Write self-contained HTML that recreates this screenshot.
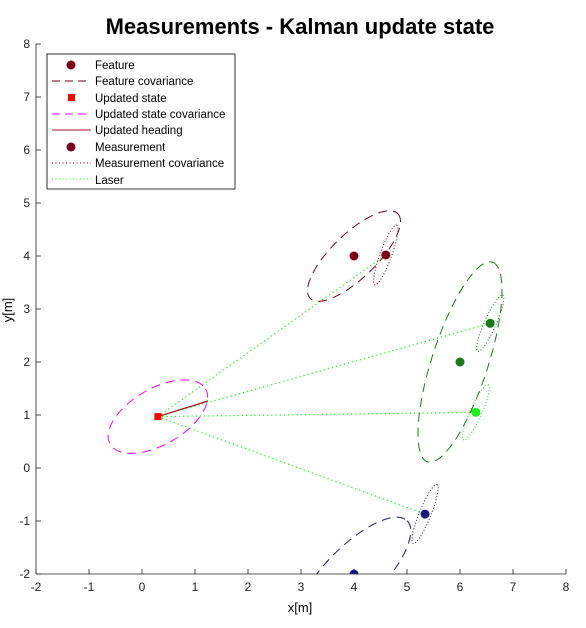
<!DOCTYPE html>
<html><head><meta charset="utf-8"><style>
body{margin:0;background:#fff;}
svg{display:block;font-family:"Liberation Sans",Arial,sans-serif;}
</style></head><body>
<svg width="586" height="628" viewBox="0 0 586 628">
<defs><clipPath id="plot"><rect x="36" y="44" width="530" height="530"/></clipPath></defs>
<text x="300" y="34" text-anchor="middle" font-size="22" font-weight="bold">Measurements - Kalman update state</text>
<g id="axes"></g>
<g id="marks" clip-path="url(#plot)"></g>
<text x="300" y="612" text-anchor="middle" font-size="13">x[m]</text>
<text x="12" y="310" text-anchor="middle" font-size="13" transform="rotate(-90 12 310)">y[m]</text>
<g>
<rect x="47" y="54" width="188" height="135" fill="#fff" stroke="#000" stroke-width="0.8"/>
<g font-size="11.5">
<circle cx="71" cy="65" r="4.5" fill="#7a0019"/>
<text x="95" y="69">Feature</text>
<line x1="52" y1="81" x2="91" y2="81" stroke="#7a0019" stroke-dasharray="8,5"/>
<text x="95" y="85">Feature covariance</text>
<rect x="68" y="94" width="7" height="7" fill="#f00"/>
<text x="95" y="102">Updated state</text>
<line x1="52" y1="114" x2="91" y2="114" stroke="#f0f" stroke-dasharray="8,5"/>
<text x="95" y="118">Updated state covariance</text>
<line x1="52" y1="130" x2="91" y2="130" stroke="#a0102a"/>
<text x="95" y="134">Updated heading</text>
<circle cx="71" cy="147" r="4.5" fill="#7a0019"/>
<text x="95" y="151">Measurement</text>
<line x1="52" y1="163" x2="91" y2="163" stroke="#7a0019" stroke-dasharray="1,2.5"/>
<text x="95" y="167">Measurement covariance</text>
<line x1="52" y1="179" x2="91" y2="179" stroke="#0f0" stroke-dasharray="1,2.5"/>
<text x="95" y="184">Laser</text>
</g></g>
</svg>
<script>
const xTicks=[-2,-1,0,1,2,3,4,5,6,7,8];
const yTicks=[-2,-1,0,1,2,3,4,5,6,7,8];
const robot=[0.3,0.97];
const headingEnd=[1.245,1.264];
const featX=[4,6,4];
const featY=[4,2,-2];
const featColors=['#7a0019','#1a7a1a','#1a1a7a'];
const measX=[4.6,6.57,6.3,5.34];
const measY=[4.02,2.73,1.05,-0.87];
const measColors=['#7a0019','#1a7a1a','#1aee1a','#1a1a7a'];
// ellipse params in data units: semi-major, semi-minor, angle(deg)
const featA=[1.15,1.98,1.42];
const featB=[0.42,0.53,0.53];
const featAng=[44,72,45];
const stateA=1.04, stateB=0.53, stateAng=30;
const measA=[0.6,0.58,0.57,0.6];
const measB=[0.11,0.11,0.11,0.11];
const measAng=[70,66,66,68];

const NS='http://www.w3.org/2000/svg';
const X=v=>36+(v+2)*53, Y=v=>574-(v+2)*53, S=d=>d*53;
function mk(tag,attrs,parent){const e=document.createElementNS(NS,tag);for(const k in attrs)e.setAttribute(k,attrs[k]);parent.appendChild(e);return e;}
const axes=document.getElementById('axes'), marks=document.getElementById('marks');
let e=mk('line',{x1:36,y1:574,x2:566,y2:574,stroke:'#222','stroke-width':0.8},axes);


e=mk('line',{x1:36,y1:44,x2:36,y2:574,stroke:'#222','stroke-width':0.8},axes);


xTicks.forEach(t=>{mk('line',{x1:X(t),y1:574,x2:X(t),y2:569,stroke:'#222','stroke-width':0.8},axes);
 const tx=mk('text',{x:X(t),y:591,'text-anchor':'middle','font-size':12,fill:'#222'},axes);tx.textContent=t;
 
 });
yTicks.forEach(t=>{mk('line',{x1:36,y1:Y(t),x2:41,y2:Y(t),stroke:'#222','stroke-width':0.8},axes);
 const tx=mk('text',{x:30,y:Y(t)+4,'text-anchor':'end','font-size':12,fill:'#222'},axes);tx.textContent=t;
 
 });
function ell(cx,cy,a,b,ang,col,dash,name){
 const el=mk('ellipse',{cx:X(cx),cy:Y(cy),rx:S(a),ry:S(b),fill:'none',stroke:col,'stroke-width':1,'stroke-dasharray':dash,transform:`rotate(${-ang} ${X(cx)} ${Y(cy)})`},marks);
 
 }
// laser lines
measX.forEach((m,i)=>{const l=mk('line',{x1:X(robot[0]),y1:Y(robot[1]),x2:X(m),y2:Y(measY[i]),stroke:'#0f0','stroke-width':1.2,'stroke-dasharray':'1.2,3'},marks);
 
 });
featX.forEach((f,i)=>ell(f,featY[i],featA[i],featB[i],featAng[i],featColors[i],'9,6','feature-covariance'));
ell(robot[0],robot[1],stateA,stateB,stateAng,'#f0f','9,6','state-covariance');
measX.forEach((m,i)=>ell(m,measY[i],measA[i],measB[i],measAng[i],measColors[i],'1,2','measurement-covariance'));
featX.forEach((f,i)=>{const c=mk('circle',{cx:X(f),cy:Y(featY[i]),r:4.5,fill:featColors[i]},marks);
 
 });
measX.forEach((m,i)=>{const c=mk('circle',{cx:X(m),cy:Y(measY[i]),r:4.5,fill:measColors[i]},marks);
 
 });
e=mk('line',{x1:X(robot[0]),y1:Y(robot[1]),x2:X(headingEnd[0]),y2:Y(headingEnd[1]),stroke:'#a0102a','stroke-width':1.2},marks);


e=mk('rect',{x:X(robot[0])-3.5,y:Y(robot[1])-3.5,width:7,height:7,fill:'#f00'},marks);


</script>
</body></html>
